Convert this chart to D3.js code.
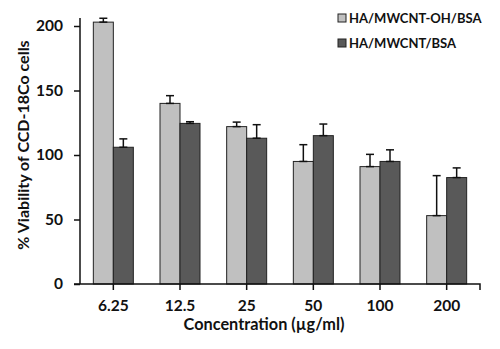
<!DOCTYPE html>
<html>
<head>
<meta charset="utf-8">
<script src="https://cdn.jsdelivr.net/npm/d3@7"></script>
<style>
  body { margin: 0; background: #fff; }
  svg text { font-family: Lato, "Open Sans", sans-serif; font-weight: bold; fill: #111; }
</style>
</head>
<body>
<svg id="chart" width="500" height="349"></svg>
<script>
const concentrations = ["6.25", "12.5", "25", "50", "100", "200"];
const seriesNames = ["HA/MWCNT-OH/BSA", "HA/MWCNT/BSA"];
const ohMeans = [203, 140, 122, 95, 91, 53];
const ohErrors = [3, 6, 3.5, 13, 9.5, 31];
const plainMeans = [106, 124.5, 113, 115, 95, 82.5];
const plainErrors = [6.5, 1.3, 10.5, 9, 9, 7.5];
const yTicks = [0, 50, 100, 150, 200];
const colors = ["#c0c0c0", "#595959"];

const svg = d3.select("#chart");
const margin = { top: 26, right: 20, bottom: 65, left: 80 };
const width = +svg.attr("width");
const height = +svg.attr("height");

const x = d3.scaleBand()
    .domain(concentrations)
    .range([margin.left, width - margin.right]);

const inner = d3.scaleBand()
    .domain(seriesNames)
    .range([0, 40]);

const y = d3.scaleLinear()
    .domain([0, 200])
    .range([height - margin.bottom, margin.top]);

const rows = concentrations.map((c, i) => ({
    c,
    values: [
        { name: seriesNames[0], mean: ohMeans[i], err: ohErrors[i], color: colors[0] },
        { name: seriesNames[1], mean: plainMeans[i], err: plainErrors[i], color: colors[1] }
    ]
}));

// bars
const groups = svg.append("g").selectAll("g")
    .data(rows)
    .join("g")
    .attr("transform", d => `translate(${x(d.c) + (x.bandwidth() - 40) / 2},0)`);

groups.selectAll("rect")
    .data(d => d.values)
    .join("rect")
    .attr("x", d => inner(d.name))
    .attr("y", d => y(d.mean))
    .attr("width", inner.bandwidth())
    .attr("height", d => y(0) - y(d.mean))
    .attr("fill", d => d.color)
    .attr("stroke", "#222")
    .attr("stroke-width", 1);

// error bars (upper only)
const err = groups.selectAll("g.err")
    .data(d => d.values)
    .join("g")
    .attr("class", "err")
    .attr("stroke", "#111")
    .attr("stroke-width", 1.5);

err.append("line")
    .attr("x1", d => inner(d.name) + inner.bandwidth() / 2)
    .attr("x2", d => inner(d.name) + inner.bandwidth() / 2)
    .attr("y1", d => y(d.mean))
    .attr("y2", d => y(d.mean + d.err));

err.append("line")
    .attr("x1", d => inner(d.name) + inner.bandwidth() / 2 - 4)
    .attr("x2", d => inner(d.name) + inner.bandwidth() / 2 + 4)
    .attr("y1", d => y(d.mean + d.err))
    .attr("y2", d => y(d.mean + d.err));

err.append("line")
    .attr("x1", d => inner(d.name) + inner.bandwidth() / 2 - 4)
    .attr("x2", d => inner(d.name) + inner.bandwidth() / 2 + 4)
    .attr("y1", d => y(d.mean))
    .attr("y2", d => y(d.mean));

// y axis
const yAxis = svg.append("g")
    .attr("transform", `translate(${margin.left},0)`)
    .call(d3.axisLeft(y).tickValues(yTicks).tickSize(6).tickSizeOuter(0).tickPadding(11));
yAxis.select(".domain").attr("stroke", "#111").attr("stroke-width", 1.5)
    .attr("d", `M0,${y(0)}V${margin.top - 8}`);
yAxis.selectAll(".tick line").attr("stroke", "#111").attr("stroke-width", 1.5);
yAxis.selectAll(".tick text").style("font-size", "15.5px");

// x axis
const xAxis = svg.append("g")
    .attr("transform", `translate(0,${y(0)})`)
    .call(d3.axisBottom(x).tickSize(6).tickSizeOuter(0).tickPadding(10));
xAxis.select(".domain").attr("stroke", "#111").attr("stroke-width", 1.5)
    .attr("d", `M${margin.left - 6},0H${width - margin.right}V6`);
xAxis.selectAll(".tick line").attr("stroke", "#111").attr("stroke-width", 1.5);
xAxis.selectAll(".tick text").style("font-size", "15.5px");

// axis titles
svg.append("text")
    .attr("transform", `translate(29,${145}) rotate(-90)`)
    .attr("text-anchor", "middle")
    .style("font-size", "16px")
    .text("% Viability of CCD-18Co cells");

svg.append("text")
    .attr("x", 264)
    .attr("y", 330)
    .attr("text-anchor", "middle")
    .style("font-size", "16.3px")
    .text("Concentration (µg/ml)");

// legend
const legend = svg.append("g")
    .selectAll("g")
    .data(seriesNames)
    .join("g")
    .attr("transform", (d, i) => `translate(338,${14 + i * 25})`);

legend.append("rect")
    .attr("width", 8)
    .attr("height", 8)
    .attr("fill", (d, i) => colors[i])
    .attr("stroke", "#222");

legend.append("text")
    .attr("x", 11)
    .attr("y", 9)
    .style("font-size", "13px")
    .text(d => d);
</script>
</body>
</html>
